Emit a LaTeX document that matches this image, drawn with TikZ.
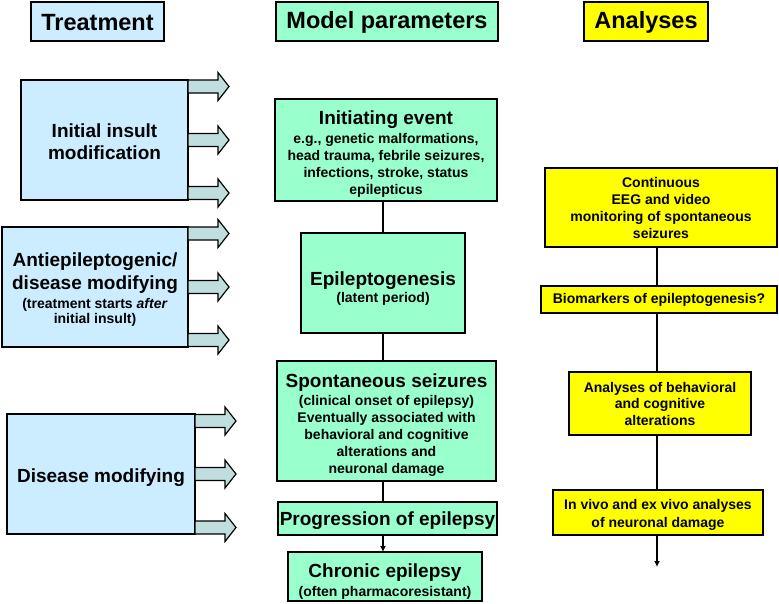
\documentclass[tikz,border=0pt]{standalone}
\usepackage{fontspec}
\setmainfont{Liberation Sans}
\usetikzlibrary{arrows.meta,calc}
\newcommand{\fbig}{\fontsize{19}{22}\selectfont}
\newcommand{\fsml}{\fontsize{14}{17}\selectfont}
\newcommand{\fhdr}{\fontsize{23.5}{26}\selectfont}
\newcommand{\tstrut}[1]{\rule{0pt}{#1pt}}
\definecolor{trt}{RGB}{204,236,255}
\definecolor{mdl}{RGB}{153,255,204}
\definecolor{ana}{RGB}{255,255,0}
\definecolor{arrc}{RGB}{192,222,222}
\newcommand{\fatarrow}[1]{\draw[fatarr] (#1) ++(0,-6.5) -- ++(30,0) -- ++(0,-7.5) -- ++(11,14) -- ++(-11,14) -- ++(0,-7.5) -- ++(-30,0) -- cycle;}
\tikzset{
  box/.style={draw=black, line width=1.5pt, inner sep=0pt, outer sep=0pt, align=center},
  smlbox/.style={box, font=\bfseries\fsml},
  bigbox/.style={box, font=\bfseries\fbig},
  hdr/.style={box, font=\bfseries\fhdr, minimum height=39},
  conn/.style={line width=1.5pt},
  fatarr/.style={draw=black, line width=1.2pt, fill=arrc, line join=miter}
}
\begin{document}
\begin{tikzpicture}[x=1pt,y=-1pt]
\useasboundingbox[fill=white] (0,0) rectangle (779,603);
% headers
\node[hdr,fill=trt,minimum width=133] (htr) at (97.5,21.5) {\tstrut{18}Treatment};
\node[hdr,fill=mdl,minimum width=222] (hmp) at (387,21.5) {\tstrut{18}Model parameters};
\node[hdr,fill=ana,minimum width=124] (han) at (646,21.5) {\tstrut{18}Analyses};
% treatment column
\node[bigbox,fill=trt,minimum width=167,minimum height=120] (ii) at (104.5,140) {\tstrut{18}Initial insult\\modification};
\node[bigbox,fill=trt,minimum width=186,minimum height=120] (ae) at (95,287) {\tstrut{18}Antiepileptogenic/\\[1pt]disease modifying\\[-3pt]\fsml (treatment starts \textit{after}\\[-7pt]\fsml initial insult)};
\node[bigbox,fill=trt,minimum width=188,minimum height=120] (dm) at (101,474) {\tstrut{22}Disease modifying};
\fatarrow{[yshift=-6.5pt]ii.north east}
\fatarrow{ii.east}
\fatarrow{[yshift=7pt]ii.south east}
\fatarrow{[yshift=-6.5pt]ae.north east}
\fatarrow{ae.east}
\fatarrow{[yshift=7pt]ae.south east}
\fatarrow{[yshift=-7pt]dm.north east}
\fatarrow{dm.east}
\fatarrow{[yshift=6.5pt]dm.south east}
% model column
\node[smlbox,fill=mdl,minimum width=222,minimum height=102] (ie) at (386,150) {\tstrut{21}\fbig Initiating event\\[2pt]e.g., genetic malformations,\\head trauma, febrile seizures,\\infections, stroke, status\\epilepticus};
\node[smlbox,fill=mdl,minimum width=164,minimum height=100] (ep) at (383,283) {\tstrut{24}\fbig Epileptogenesis\\[0pt](latent period)};
\node[smlbox,fill=mdl,minimum width=219,minimum height=120] (ss) at (386.5,421) {\tstrut{21}\fbig Spontaneous seizures\\[1pt](clinical onset of epilepsy)\\Eventually associated with\\behavioral and cognitive\\alterations and\\neuronal damage};
\node[bigbox,fill=mdl,minimum width=219,minimum height=33] (pe) at (387.5,518.5) {\tstrut{18}Progression of epilepsy};
\node[smlbox,fill=mdl,minimum width=194,minimum height=49] (ce) at (385,576.5) {\tstrut{23}\fbig Chronic epilepsy\\[2pt](often pharmacoresistant)};
\draw[conn] (ep.north |- ie.south) -- (ep.north);
\draw[conn] (ep.south) -- (ep.south |- ss.north);
\draw[conn] (ep.south |- ss.south) -- (ep.south |- pe.north);
\draw[conn,-{Latex[length=6pt,width=6pt]}] (ep.south |- pe.south) -- (ep.south |- ce.north);
% analyses column
\coordinate (rx) at (657,0);
\coordinate (rend) at (657,567);
\node[smlbox,fill=ana,minimum width=232,minimum height=79] (eeg) at (661,207.5) {Continuous\\EEG and video\\monitoring of spontaneous\\seizures};
\node[smlbox,fill=ana,minimum width=236,minimum height=27] (bio) at (659,299.5) {Biomarkers of epileptogenesis?};
\node[smlbox,fill=ana,minimum width=182,minimum height=63] (abc) at (660,403.5) {Analyses of behavioral\\[-0.5pt]and cognitive\\[-0.5pt]alterations};
\node[smlbox,fill=ana,minimum width=210,minimum height=45] (ivv) at (658,512.5) {\tstrut{15}In vivo and ex vivo analyses\\[1pt]of neuronal damage};
\draw[conn] (rx |- eeg.south) -- (rx |- bio.north);
\draw[conn] (rx |- bio.south) -- (rx |- abc.north);
\draw[conn] (rx |- abc.south) -- (rx |- ivv.north);
\draw[conn,-{Latex[length=6pt,width=6pt]}] (rx |- ivv.south) -- (rend);
\end{tikzpicture}
\end{document}
